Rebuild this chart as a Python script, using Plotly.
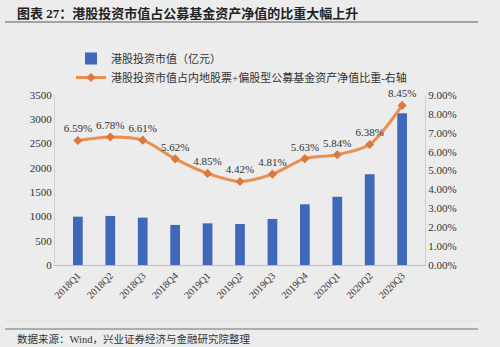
import plotly.graph_objects as go

categories = ["2018Q1", "2018Q2", "2018Q3", "2018Q4", "2019Q1", "2019Q2",
              "2019Q3", "2019Q4", "2020Q1", "2020Q2", "2020Q3"]
hk_value = [995, 1010, 975, 825, 858, 845, 948, 1250, 1405, 1867, 3125]
hk_share = [6.59, 6.78, 6.61, 5.62, 4.85, 4.42, 4.81, 5.63, 5.84, 6.38, 8.45]
share_labels = [f"{v:.2f}%" for v in hk_share]

title_text = "图表 27：港股投资市值占公募基金资产净值的比重大幅上升"
source_text = "数据来源：Wind，兴业证券经济与金融研究院整理"
bar_name = "港股投资市值（亿元）"
line_name = "港股投资市值占内地股票+偏股型公募基金资产净值比重-右轴"

FONT = "Liberation Serif, Noto Sans CJK SC, serif"
BG = "#ECECEC"

# plot area in px: x 55..425, y 95..265
L, R, T, B = 55, 425, 95, 265
def px(x):
    return (x - L) / (R - L)
def py(y):
    return (B - y) / (B - T)

fig = go.Figure()
fig.add_trace(go.Bar(
    x=categories, y=hk_value, name=bar_name,
    marker=dict(color="#3F68BA", line=dict(width=0)),
    yaxis="y",
))
fig.add_trace(go.Scatter(
    x=categories, y=[v / 100 for v in hk_share], name=line_name,
    mode="lines+markers+text",
    line=dict(color="#EC8E4E", width=3, shape="spline", smoothing=0.8),
    marker=dict(symbol="diamond", size=7, color="#D9793C"),
    text=share_labels, textposition="top center",
    textfont=dict(family=FONT, size=11, color="#333333"),
    yaxis="y2", cliponaxis=False,
))

fig.update_layout(
    width=500, height=347,
    margin=dict(l=L, r=500 - R, t=T, b=347 - B),
    paper_bgcolor=BG, plot_bgcolor=BG,
    font=dict(family=FONT, size=11, color="#333333"),
    bargap=0.7,
    showlegend=True,
    legend=dict(x=px(71), y=py(44), xanchor="left", yanchor="top",
                orientation="v", bgcolor="rgba(0,0,0,0)",
                font=dict(family=FONT, size=11, color="#333333"),
                tracegroupgap=2, itemwidth=30),
    xaxis=dict(type="category", tickangle=-45, showgrid=False,
               showline=True, linecolor="#BDBDBD", linewidth=1,
               tickfont=dict(family=FONT, size=10, color="#333333"),
               ticks=""),
    yaxis=dict(range=[0, 3500], dtick=500, showgrid=False,
               showline=True, linecolor="#D0D0D0", linewidth=1,
               tickfont=dict(family=FONT, size=11, color="#333333"),
               ticks="", zeroline=False),
    yaxis2=dict(range=[0, 0.09], dtick=0.01, tickformat=".2%",
                overlaying="y", side="right", showgrid=False,
                showline=True, linecolor="#D0D0D0", linewidth=1,
                tickfont=dict(family=FONT, size=11, color="#333333"),
                ticks="", zeroline=False),
)

fig.add_annotation(text=f"<b>{title_text}</b>", xref="paper", yref="paper",
                   x=px(15), y=py(14), xanchor="left", yanchor="middle",
                   showarrow=False,
                   font=dict(family=FONT, size=13, color="#222222"))
fig.add_shape(type="line", xref="paper", yref="paper",
              x0=px(5), x1=px(478), y0=py(22), y1=py(22),
              line=dict(color="#8A8A8A", width=1.5))
fig.add_shape(type="line", xref="paper", yref="paper",
              x0=px(5), x1=px(478), y0=py(321), y1=py(321),
              line=dict(color="#DEDEDE", width=1))
fig.add_shape(type="line", xref="paper", yref="paper",
              x0=px(5), x1=px(478), y0=py(329), y1=py(329),
              line=dict(color="#6F6F6F", width=1.2))
fig.add_annotation(text=source_text, xref="paper", yref="paper",
                   x=px(15), y=py(339), xanchor="left", yanchor="middle",
                   showarrow=False,
                   font=dict(family=FONT, size=10.5, color="#333333"))

fig.write_html("out.html")
